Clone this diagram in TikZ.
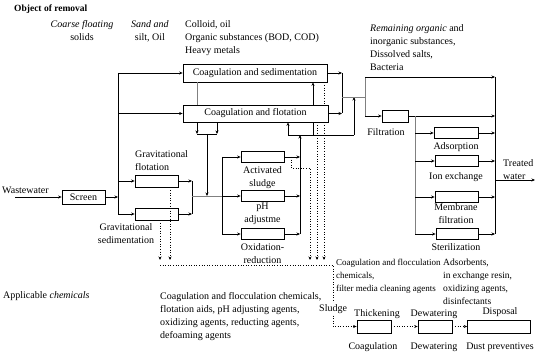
\documentclass[tikz,border=0pt]{standalone}
\usepackage{fontspec}
\setmainfont{Liberation Serif}
\usetikzlibrary{arrows.meta}
\begin{document}
\begin{tikzpicture}[x=1pt,y=-1pt,
  every node/.style={font=\fontsize{10}{13}\selectfont, inner sep=0pt},
  box/.style={draw, fill=white, line width=0.7pt, minimum height=12pt},
  ln/.style={line width=0.6pt},
  gln/.style={line width=0.6pt, gray},
  arr/.style={ln, -{Stealth[length=3.5pt,width=3pt]}},
  dotln/.style={line width=0.6pt, dotted},
  dotarr/.style={dotln, -{Stealth[length=3.5pt,width=3pt]}},
  ]
\useasboundingbox (0,0) rectangle (550,355);

% ---------- boxes ----------
\node[box, minimum width=144pt, minimum height=18pt] (csed) at (255,73) {Coagulation and sedimentation};
\node[box, minimum width=145pt, minimum height=17pt] (cflot) at (255.5,113.5) {Coagulation and flotation};
\node[box, minimum width=43pt, minimum height=14pt] (screen) at (83.5,197) {Screen};
\node[box, minimum width=43pt] (gflot) at (156.5,181) {};
\node[box, minimum width=43pt] (gsed) at (156.5,214) {};
\node[box, minimum width=43pt, minimum height=11pt] (act) at (262.5,157) {};
\node[box, minimum width=43pt, minimum height=11pt] (ph) at (262.5,196) {};
\node[box, minimum width=43pt, minimum height=11pt] (oxi) at (262.5,234) {};
\node[box, minimum width=26pt] (filt) at (395,116) {};
\node[box, minimum width=44pt, minimum height=11pt] (ads) at (456,133) {};
\node[box, minimum width=43pt, minimum height=11pt] (ion) at (456.5,161) {};
\node[box, minimum width=43pt, minimum height=11pt] (mem) at (456.5,197) {};
\node[box, minimum width=42pt, minimum height=11pt] (ster) at (457,234) {};
\node[box, minimum width=34pt, minimum height=13pt] (thick) at (374,326.5) {};
\node[box, minimum width=34pt, minimum height=13pt] (dew) at (435,326.5) {};
\node[box, minimum width=63pt, minimum height=13pt] (disp) at (499,326.5) {};

% ---------- coordinates ----------
\coordinate (ww) at (15,197);
\coordinate (busL) at (118,73);
\coordinate (busG) at (192,196);
\coordinate (busM) at (222,196);
\coordinate (brL) at (197,134);
\coordinate (brR) at (217,134);
\coordinate (brM) at (207,134);
\coordinate (busR) at (300,135);
\coordinate (rl) at (288,135);
\coordinate (rm) at (313,135);
\coordinate (rr) at (354,135);
\coordinate (busS) at (342,97);
\coordinate (busF) at (365,97);
\coordinate (ft) at (365,77);
\coordinate (fb) at (365,116);
\coordinate (busA) at (415,116);
\coordinate (busT) at (495,180);
\coordinate (tw) at (535,180);
\coordinate (dg1) at (170,260);
\coordinate (dg2) at (160,260);
\coordinate (dh) at (160,265);
\coordinate (sl) at (333,265);
\coordinate (d1) at (310,260);
\coordinate (d2) at (317,260);
\coordinate (d3) at (324,260);
\coordinate (ac1) at (291,168);

% ---------- solid connectors ----------
\draw[arr] (ww) -- (screen.west);
\draw[arr] (screen.east) -- (screen.east -| busL);
\draw[ln] (busL) -- (gsed.west -| busL);
\draw[arr] (busL) -- (csed.west);
\draw[arr] (cflot.west -| busL) -- (cflot.west);
\draw[arr] (gflot.west -| busL) -- (gflot.west);
\draw[arr] (gsed.west -| busL) -- (gsed.west);
\draw[arr] (gflot.east) -- (gflot.east -| busG);
\draw[arr] (gsed.east) -- (gsed.east -| busG);
\draw[ln] (gflot.east -| busG) -- (gsed.east -| busG);
\draw[gln] (busG) -- (busM);
\draw[arr] (busM) -- (ph.west);
\draw[ln] (act.west -| busM) -- (oxi.west -| busM);
\draw[arr] (act.west -| busM) -- (act.west);
\draw[arr] (oxi.west -| busM) -- (oxi.west);
% bracket below coagulation and flotation
\draw[arr] (cflot.south -| brL) -- (brL);
\draw[arr] (cflot.south -| brR) -- (brR);
\draw[ln] (brL) -- (brR);
\draw[arr] (brM) -- (brM |- busG);
\draw[gln] (csed.south -| brL) -- (cflot.north -| brL);
\draw[arr] (cflot.north -| rm) -- (csed.south -| rm);
% outputs of activated sludge etc.
\draw[arr] (act.east) -- (act.east -| busR);
\draw[arr] (ph.east) -- (ph.east -| busR);
\draw[arr] (oxi.east) -- (oxi.east -| busR);
\draw[arr] (oxi.east -| busR) -- (busR);
\draw[ln] (rl) -- (rr);
\draw[arr] (rl) -- (rl |- cflot.south);
\draw[ln] (rm) -- (rm |- cflot.south);
\draw[arr] (rr) -- (rr |- busS);
% merge to filtration
\draw[arr] (csed.east) -- (csed.east -| busS);
\draw[arr] (cflot.east) -- (cflot.east -| busS);
\draw[ln] (csed.east -| busS) -- (cflot.east -| busS);
\draw[gln] (busS) -- (busF);
\draw[gln] (ft) -- (fb);
\draw[arr] (ft) -- (ft -| busT);
\draw[arr] (fb) -- (filt.west);
\draw[arr] (filt.east) -- (filt.east -| busT);
\draw[gln] (busA) -- (ster.west -| busA);
\draw[arr] (ads.west -| busA) -- (ads.west);
\draw[arr] (ion.west -| busA) -- (ion.west);
\draw[arr] (mem.west -| busA) -- (mem.west);
\draw[arr] (ster.west -| busA) -- (ster.west);
\draw[arr] (ads.east) -- (ads.east -| busT);
\draw[arr] (ion.east) -- (ion.east -| busT);
\draw[arr] (mem.east) -- (mem.east -| busT);
\draw[arr] (ster.east) -- (ster.east -| busT);
\draw[ln] (busT |- ft) -- (busT |- ster.east);
\draw[arr] (busT) -- (tw);

% ---------- dotted connectors ----------
\draw[dotarr] (gflot.south -| dg1) -- (dg1);
\draw[dotarr] (gsed.south -| dg2) -- (dg2);
\draw[dotarr] (dh) -- (sl) -- (sl |- thick.west) -- (thick.west);
\draw[dotln] (csed.south -| d3) -- (cflot.north -| d3);
\draw[dotarr] (cflot.south -| d3) -- (d3);
\draw[dotarr] (cflot.south -| d2) -- (d2);
\draw[dotarr] (act.east -| ac1) -- (ac1) -- (ac1 -| d1) -- (d1);
\draw[dotarr] (thick.east) -- (dew.west);
\draw[dotarr] (dew.east) -- (disp.west);

% ---------- texts ----------
\node[anchor=west, font=\fontsize{9.5}{13}\selectfont\bfseries] (t0) at (14,9) {Object of removal};
\node[anchor=north, align=center] (tcs) at (82,20) {\textit{Coarse floating}\\solids};
\node[anchor=north, align=center] (tsand) at (150,20) {\textit{Sand and}\\silt, Oil};
\node[anchor=north west, align=left] (tcol) at (185,20) {Colloid, oil\\Organic substances (BOD, COD)\\Heavy metals};
\node[anchor=north west, align=left] (trem) at (370,24) {\textit{Remaining organic} and\\inorganic substances,\\Dissolved salts,\\Bacteria};
\node[anchor=west] (tww) at (2,190) {Wastewater};
\node[anchor=north west, align=left] (tgf) at (135,150) {Gravitational\\flotation};
\node[anchor=north, align=center] (tgs) at (126,223) {Gravitational\\sedimentation};
\node[anchor=north, align=center] (tact) at (262.5,166) {Activated\\sludge};
\node[anchor=north, align=center] (tph) at (262.5,203) {pH\\adjustme};
\node[anchor=north, align=center] (toxi) at (262.5,243) {Oxidation-\\reduction};
\node (tfilt) at (386,132) {Filtration};
\node (tads) at (456,147) {Adsorption};
\node (tion) at (456,177) {Ion exchange};
\node[anchor=north, align=center] (tmem) at (456,203) {Membrane\\filtration};
\node (tster) at (456,247) {Sterilization};
\node[anchor=north west, align=left] (ttw) at (503,159) {Treated\\water};
\node[anchor=west] (tapp) at (3,296) {Applicable \textit{chemicals}};
\node[anchor=north west, align=left] (tchem1) at (160,292) {Coagulation and flocculation chemicals,\\flotation aids, pH adjusting agents,\\oxidizing agents, reducting agents,\\defoaming agents};
\node[anchor=north west, align=left, font=\fontsize{9}{13}\selectfont] (tchem2) at (336,259) {Coagulation and flocculation\\chemicals,\\filter media cleaning agents};
\node[anchor=north west, align=left, font=\fontsize{9.5}{13}\selectfont] (tchem3) at (443,259) {Adsorbents,\\in exchange resin,\\oxidizing agents,\\disinfectants};
\node[anchor=west, fill=white, inner sep=1pt] (tsl) at (318,309) {Sludge};
\node (tth) at (377,314) {Thickening};
\node (tde) at (434,314) {Dewatering};
\node (tdi) at (500,312) {Disposal};
\node (tco) at (373,347) {Coagulation};
\node (tde2) at (434,347) {Dewatering};
\node (tdu) at (500,347) {Dust preventives};
\end{tikzpicture}
\end{document}
